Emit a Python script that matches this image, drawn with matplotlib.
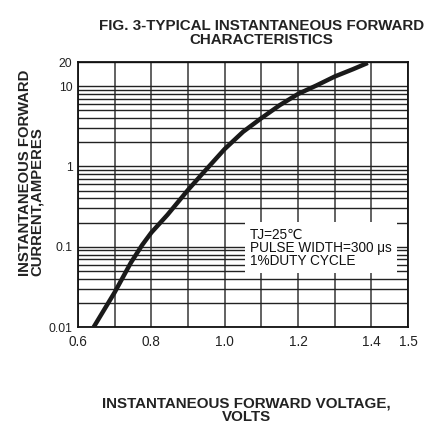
import matplotlib.pyplot as plt
from matplotlib.ticker import FixedLocator, LogLocator, NullFormatter

plt.rcParams['font.family'] = ['Liberation Sans', 'DejaVu Sans']

# forward voltage (V) vs forward current (A)
volts = [0.643, 0.70, 0.744, 0.775, 0.80, 0.844, 0.90, 0.94, 1.00,
         1.05, 1.10, 1.15, 1.20, 1.25, 1.30, 1.35, 1.39]
amps = [0.01, 0.027, 0.063, 0.105, 0.15, 0.25, 0.51, 0.82, 1.65,
        2.7, 4.0, 5.8, 8.0, 10.2, 13.2, 16.3, 19.5]

x_ticks = [0.6, 0.8, 1.0, 1.2, 1.4, 1.5]
y_ticks = [0.01, 0.1, 1, 10, 20]
y_labels = ['0.01', '0.1', '1', '10', '20']
note = 'TJ=25\u2103\nPULSE WIDTH=300 \u03bcs\n1%DUTY CYCLE'

fig = plt.figure(figsize=(4.48, 4.38), dpi=100)
ax = fig.add_axes([0.174, 0.2534, 0.737, 0.605])

ax.set_yscale('log')
ax.set_xlim(0.6, 1.5)
ax.set_ylim(0.01, 20)

ax.xaxis.set_minor_locator(FixedLocator([0.7 + 0.1 * i for i in range(8)]))
ax.yaxis.set_minor_locator(LogLocator(base=10, subs=range(2, 10)))
ax.yaxis.set_minor_formatter(NullFormatter())
ax.grid(True, axis='x', which='both', color='#555555', linewidth=1.3)
ax.grid(True, axis='y', which='both', color='#222222', linewidth=1.0)
ax.set_axisbelow(True)

ax.plot(volts, amps, color='#1a1a1a', linewidth=3.2, solid_capstyle='butt',
        solid_joinstyle='round', zorder=3)

ax.set_xticks(x_ticks)
ax.set_xticklabels(['%.1f' % v for v in x_ticks])
ax.set_yticks(y_ticks)
ax.set_yticklabels(y_labels)
ax.tick_params(which='both', length=0, colors='#222222')
ax.tick_params(axis='x', labelsize=9.8, pad=6)
ax.tick_params(axis='y', labelsize=8.8, pad=4)
for s in ax.spines.values():
    s.set_color('#111111')
    s.set_linewidth(1.3)

ax.text(0.521, 0.30, note, transform=ax.transAxes, fontsize=9.8,
        color='#111111', linespacing=0.92, va='center', ha='left', zorder=4,
        bbox=dict(facecolor='white', edgecolor='none', pad=3.5))

fig.text(0.584, 0.925, 'FIG. 3-TYPICAL INSTANTANEOUS FORWARD\nCHARACTERISTICS',
         ha='center', va='center', fontsize=10.9, fontweight='bold',
         color='#222222', linespacing=0.95)
fig.text(0.55, 0.063, 'INSTANTANEOUS FORWARD VOLTAGE,\nVOLTS',
         ha='center', va='center', fontsize=10.9, fontweight='bold',
         color='#222222', linespacing=0.95)
fig.text(0.069, 0.605, 'INSTANTANEOUS FORWARD\nCURRENT,AMPERES',
         ha='center', va='center', rotation=90, multialignment='left',
         fontsize=10.7, fontweight='bold', color='#222222', linespacing=0.85)

fig.savefig('out.png', dpi=100)
